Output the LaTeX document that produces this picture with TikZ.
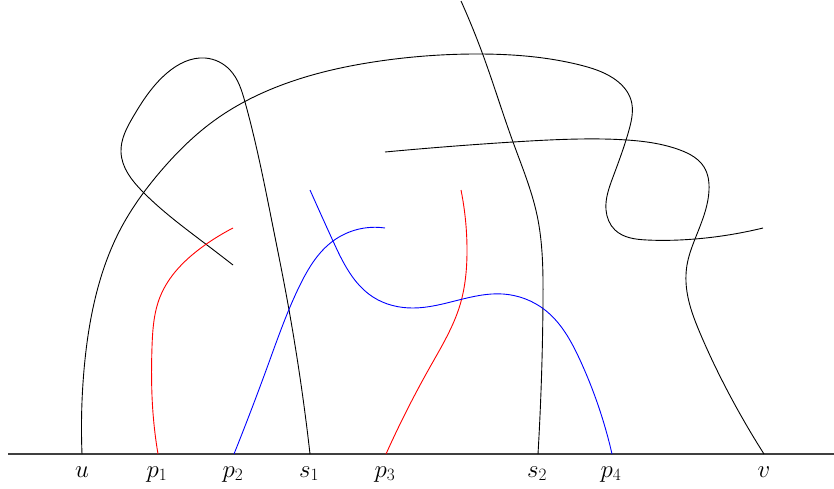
\documentclass[tikz,border=0pt]{standalone}
\usetikzlibrary{hobby}
\begin{document}
\begin{tikzpicture}[x=1pt,y=-1pt,
  curve/.style={line width=0.9pt, line join=round, use Hobby shortcut},
  baseln/.style={line width=1.2pt, draw=black!75},
  lab/.style={anchor=base, inner sep=0pt, font=\fontsize{26}{30}\selectfont}]
\useasboundingbox (0,0) rectangle (834,488);
% baseline points
\coordinate (L) at (8,454);
\coordinate (R) at (834,454);
\coordinate (u) at (82,454);
\coordinate (p1) at (158,454);
\coordinate (p2) at (234,454);
\coordinate (s1) at (310,454);
\coordinate (p3) at (386,454);
\coordinate (s2) at (538,454);
\coordinate (p4) at (612,454);
\coordinate (v) at (764,454);
% free ends
\coordinate (eu) at (763,228);
\coordinate (ev) at (385,152);
\coordinate (es2) at (461,1);
\coordinate (es1) at (233,265);
\coordinate (ep1) at (233,228);
\coordinate (ep2) at (385,228);
\coordinate (ep4) at (310,190);
\coordinate (ep3) at (461,190);
\draw[baseln] (L) -- (R);
% labels
\node[lab] (lu) at (82,477) {$u$};
\node[lab] (lp1) at (157,477) {$p_1$};
\node[lab] (lp2) at (233,477) {$p_2$};
\node[lab] (ls1) at (309,477) {$s_1$};
\node[lab] (lp3) at (385,477) {$p_3$};
\node[lab] (ls2) at (537,477) {$s_2$};
\node[lab] (lp4) at (611,477) {$p_4$};
\node[lab] (lv) at (764,477) {$v$};
% black curves
\draw[curve] (u) .. (84,370) .. (96,295) .. (120,230) .. (160,172) .. (215,120) .. (290,82) .. (380,61) .. (480,54) .. (580,65) .. (613,78) .. (631,100) .. (629,130) .. (613,177) .. (606,210) .. (615,230) .. (647,240) .. (695,239) .. (eu);
\draw[curve] (ev) .. (513,142) .. (580,139) .. (627,140) .. (680,150) .. (704,167) .. (709,190) .. (695,239) .. (687,265) .. (687,292) .. (700,333) .. (727,390) .. (v);
\draw[curve] (es2) .. (483,55) .. (513,142) .. (537,215) .. (543,300) .. (s2);
\draw[curve] (es1) .. (207,245) .. (143,192) .. (121,152) .. (133,117) .. (167,73) .. (205,58) .. (230,70) .. (245,102) .. (257,150) .. (273,227) .. (285,288) .. (s1);
% red curves
\draw[curve,red] (ep1) .. (205,245) .. (160,297) .. (152,347) .. (153,413) .. (p1);
\draw[curve,red] (ep3) .. (467,250) .. (460,305) .. (430,367) .. (p3);
% blue curves
\draw[curve,blue] (ep2) .. (333,241) .. (300,285) .. (268,365) .. (p2);
\draw[curve,blue] (ep4) .. (333,241) .. (373,297) .. (413,308) .. (503,294) .. (545,310) .. (580,360) .. (p4);
\end{tikzpicture}
\end{document}
